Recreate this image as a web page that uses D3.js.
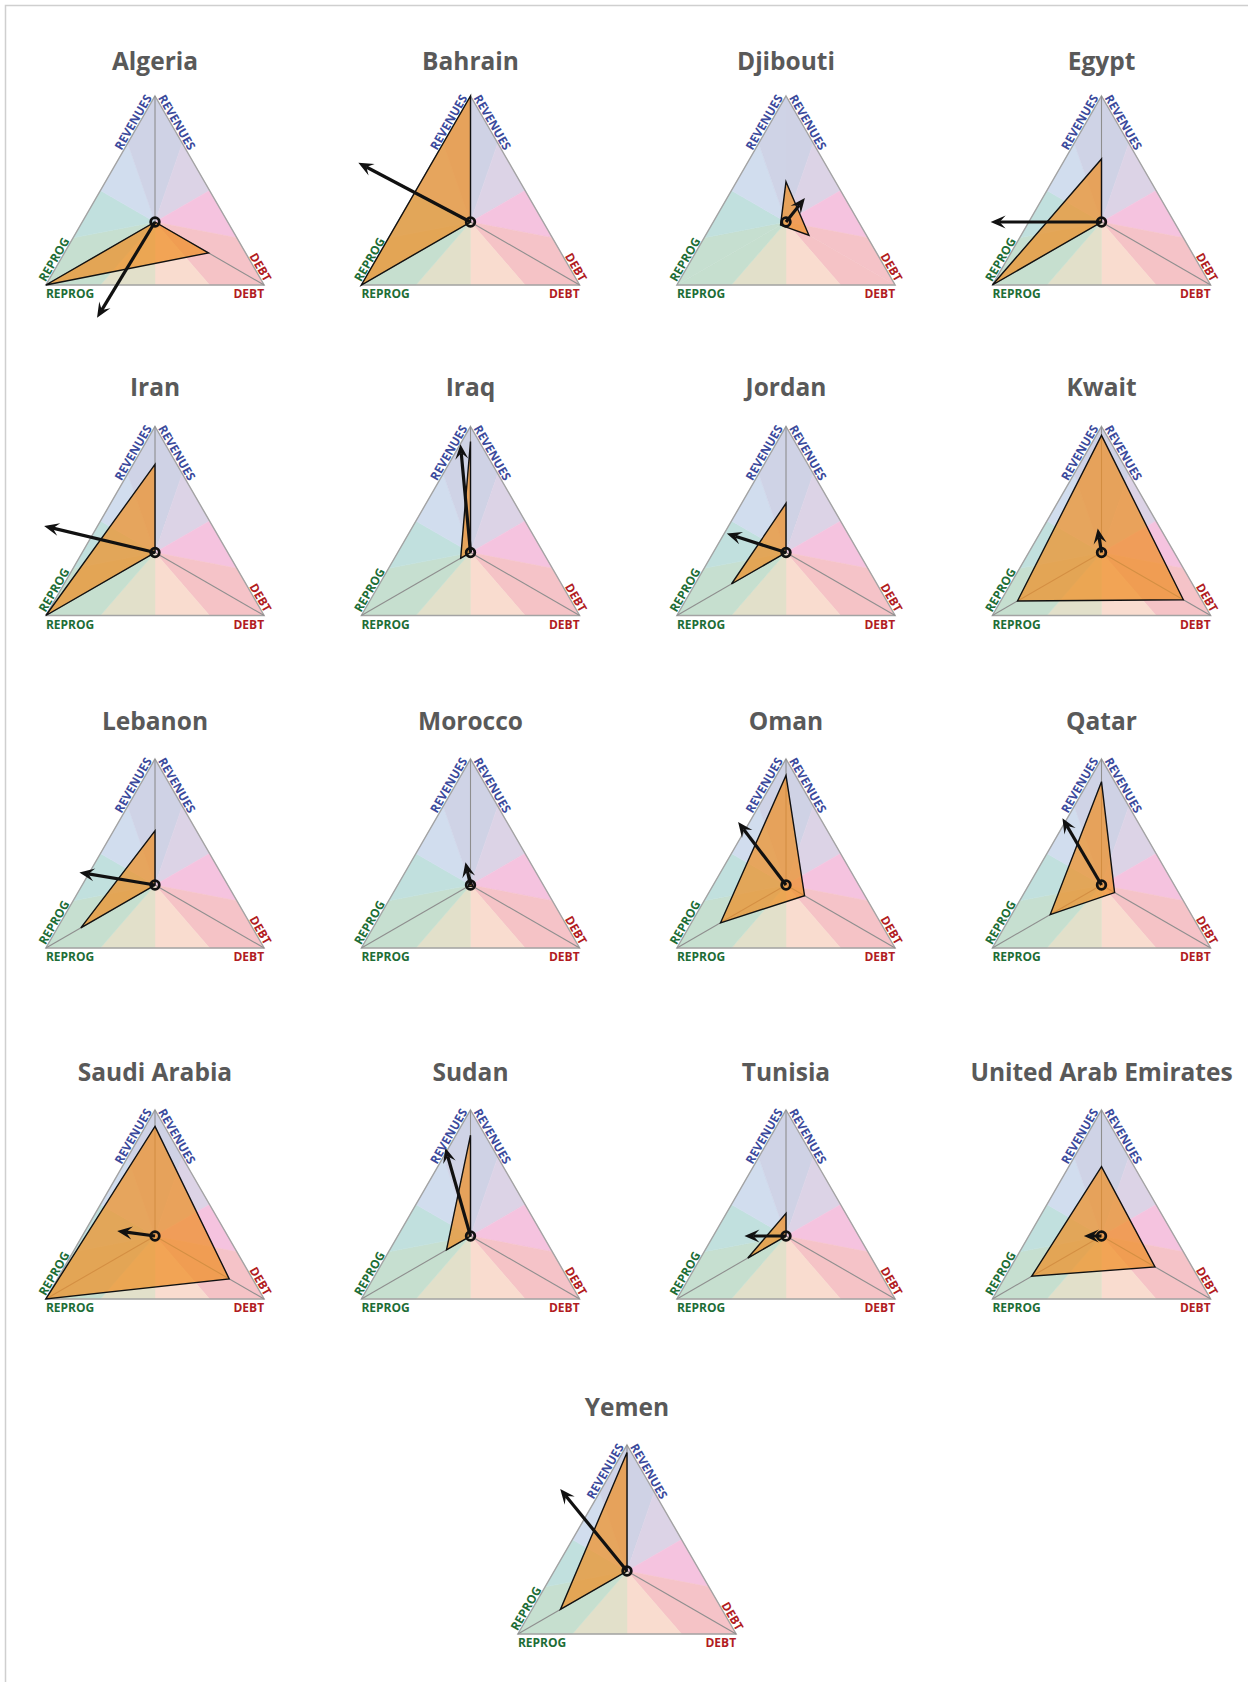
<!DOCTYPE html>
<html><head><meta charset="utf-8">
<script src="https://cdn.jsdelivr.net/npm/d3@7"></script>
<style>body{margin:0;background:#fff} svg{display:block}</style>
</head><body>
<script>
// ---- data ----
const countries = ["Algeria","Bahrain","Djibouti","Egypt","Iran","Iraq","Jordan","Kwait","Lebanon","Morocco","Oman","Qatar","Saudi Arabia","Sudan","Tunisia","United Arab Emirates","Yemen"];
const revenues = [0.00, 1.00, 0.32, 0.50, 0.70, 0.88, 0.39, 0.93, 0.43, 0.05, 0.87, 0.82, 0.87, 0.80, 0.18, 0.55, 0.94];
const reprog   = [1.00, 1.00, 0.05, 1.00, 1.00, 0.09, 0.50, 0.77, 0.68, 0.02, 0.60, 0.47, 1.00, 0.22, 0.35, 0.64, 0.61];
const debt     = [0.49, 0.00, 0.21, 0.00, 0.00, 0.00, 0.00, 0.75, 0.00, 0.02, 0.17, 0.12, 0.68, 0.00, 0.00, 0.49, 0.00];
const arrowX   = [-0.46,-0.89, 0.15,-0.88,-0.88,-0.08,-0.47,-0.03,-0.60,-0.04,-0.38,-0.31,-0.30,-0.20,-0.33,-0.14,-0.53];
const arrowY   = [-0.76, 0.47, 0.19, 0.00, 0.21, 0.86, 0.15, 0.19, 0.10, 0.18, 0.50, 0.53, 0.04, 0.70, 0.00, 0.00, 0.65];
const noAxisLines = ["Djibouti"];
const axisNames = ["REVENUES","REPROG","DEBT"];
const wedgeColors = ["#cfd2e5","#dcd3e6","#f5c3df","#f5c3c8","#f5c3c6","#f9dccf",
                     "#e2e0ca","#c6dfcf","#c6dfd0","#c1e0de","#d1ddee","#cfd3e6"];

// ---- layout ----
const W = 1248, H = 1682, R = 126;
const svg = d3.select("body").append("svg").attr("width", W).attr("height", H);
svg.append("rect").attr("width", W).attr("height", H).attr("fill", "#fff");
svg.append("path").attr("d", `M5.5,${H}V5.5H${W}`).attr("fill", "none")
  .attr("stroke", "#cfcfcf").attr("stroke-width", 1.5);

const rScale = d3.scaleLinear().domain([0, 1]).range([0, R]);
const colX = d3.scalePoint().domain([0, 1, 2, 3]).range([155, 1101.5]);
const rowY = [222, 552.5, 885, 1236, 1571];
const titleOff = [152, 157, 155, 155, 155];
function rowOf(i) { return i < 16 ? Math.floor(i / 4) : 4; }
function center(i) {
  if (i < 16) return [colX(i % 4), rowY[rowOf(i)]];
  return [627, rowY[4]];
}
const deg = Math.PI / 180;
const angTop = -90 * deg, angDebt = 30 * deg, angReprog = 150 * deg;
const pt = (c, a, v) => [c[0] + rScale(v) * Math.cos(a), c[1] + rScale(v) * Math.sin(a)];
const lerp = (p, q, t) => [p[0] + (q[0] - p[0]) * t, p[1] + (q[1] - p[1]) * t];
const line = d3.line();
const labelFont = "'Open Sans', sans-serif";
const colRev = "#3b4a9c", colRep = "#1d6d36", colDebt = "#b11c22";

countries.forEach((name, i) => {
  const c = center(i);
  const g = svg.append("g");
  const T = pt(c, angTop, 1), BR = pt(c, angDebt, 1), BL = pt(c, angReprog, 1);

  // wedges
  const perim = [];
  [[T, BR], [BR, BL], [BL, T]].forEach(([a, b]) => {
    [0, 0.25, 0.5, 0.75].forEach(t => perim.push(lerp(a, b, t)));
  });
  perim.forEach((p, k) => {
    const q = perim[(k + 1) % perim.length];
    g.append("path").attr("d", line([c, p, q]) + "Z")
      .attr("fill", wedgeColors[k]).attr("stroke", wedgeColors[k]).attr("stroke-width", 0.5);
  });
  // outline
  g.append("path").attr("d", line([T, BR, BL]) + "Z").attr("fill", "none")
    .attr("stroke", "#a3a3a3").attr("stroke-width", 1.4);
  // radial axis lines
  if (!noAxisLines.includes(name)) {
    [T, BR, BL].forEach(v => g.append("line")
      .attr("x1", c[0]).attr("y1", c[1]).attr("x2", v[0]).attr("y2", v[1])
      .attr("stroke", "#8e8e8e").attr("stroke-width", 1.1));
  }
  // polygon
  const poly = [pt(c, angTop, revenues[i]), pt(c, angDebt, debt[i]), pt(c, angReprog, reprog[i])];
  g.append("path").attr("d", line(poly) + "Z")
    .attr("fill", "#ef8f25").attr("fill-opacity", 0.72)
    .attr("stroke", "#111").attr("stroke-width", 1.4).attr("stroke-linejoin", "miter");

  // arrow
  const tip = [c[0] + rScale(arrowX[i]), c[1] - rScale(arrowY[i])];
  const dx = tip[0] - c[0], dy = tip[1] - c[1];
  const len = Math.hypot(dx, dy);
  const a = Math.atan2(dy, dx);
  const headL = 15, notch = 9, headW = 6.5;
  const shaftEnd = [tip[0] - Math.cos(a) * notch, tip[1] - Math.sin(a) * notch];
  g.append("line").attr("x1", c[0]).attr("y1", c[1])
    .attr("x2", len > notch ? shaftEnd[0] : c[0]).attr("y2", len > notch ? shaftEnd[1] : c[1])
    .attr("stroke", "#111").attr("stroke-width", 3.2);
  g.append("path")
    .attr("d", `M0,0L${-headL},${-headW}L${-notch},0L${-headL},${headW}Z`)
    .attr("transform", `translate(${tip[0]},${tip[1]}) rotate(${a / deg})`)
    .attr("fill", "#111");
  // center circle
  g.append("circle").attr("cx", c[0]).attr("cy", c[1]).attr("r", 4.3)
    .attr("fill", "none").attr("stroke", "#111").attr("stroke-width", 2.8);

  // labels
  const fs = 12, off = 1.5;
  const addRot = (p, rot, anchor, txt, col) => {
    g.append("text").attr("transform", `translate(${p[0]},${p[1]}) rotate(${rot})`)
      .attr("text-anchor", anchor).attr("font-family", labelFont).attr("font-weight", 700)
      .attr("font-size", fs).attr("fill", col).text(txt);
  };
  const nL = [-Math.cos(30 * deg), -0.5], nR = [Math.cos(30 * deg), -0.5];
  const uL = [0.5, -Math.sin(60 * deg)], uR = [0.5, Math.sin(60 * deg)];
  // left edge: REVENUES (ends at top), REPROG (starts at BL)
  addRot([T[0] - uL[0] * 3 + nL[0] * off, T[1] - uL[1] * 3 + nL[1] * off], -60, "end", axisNames[0], colRev);
  addRot([BL[0] + uL[0] * 2 + nL[0] * off, BL[1] + uL[1] * 2 + nL[1] * off], -60, "start", axisNames[1], colRep);
  // right edge: REVENUES (starts at top), DEBT (ends at BR)
  addRot([T[0] + uR[0] * 3 + nR[0] * off, T[1] + uR[1] * 3 + nR[1] * off], 60, "start", axisNames[0], colRev);
  addRot([BR[0] - uR[0] * 2 + nR[0] * off, BR[1] - uR[1] * 2 + nR[1] * off], 60, "end", axisNames[2], colDebt);
  // horizontal labels
  g.append("text").attr("x", BL[0]).attr("y", BL[1] + 13).attr("text-anchor", "start")
    .attr("font-family", labelFont).attr("font-weight", 700).attr("font-size", fs)
    .attr("fill", colRep).text(axisNames[1]);
  g.append("text").attr("x", BR[0]).attr("y", BR[1] + 13).attr("text-anchor", "end")
    .attr("font-family", labelFont).attr("font-weight", 700).attr("font-size", fs)
    .attr("fill", colDebt).text(axisNames[2]);

  // title
  g.append("text").attr("x", c[0]).attr("y", c[1] - titleOff[rowOf(i)]).attr("text-anchor", "middle")
    .attr("font-family", labelFont).attr("font-weight", 700).attr("font-size", 24.5)
    .attr("fill", "#595959").text(name);
});
</script>
</body></html>
